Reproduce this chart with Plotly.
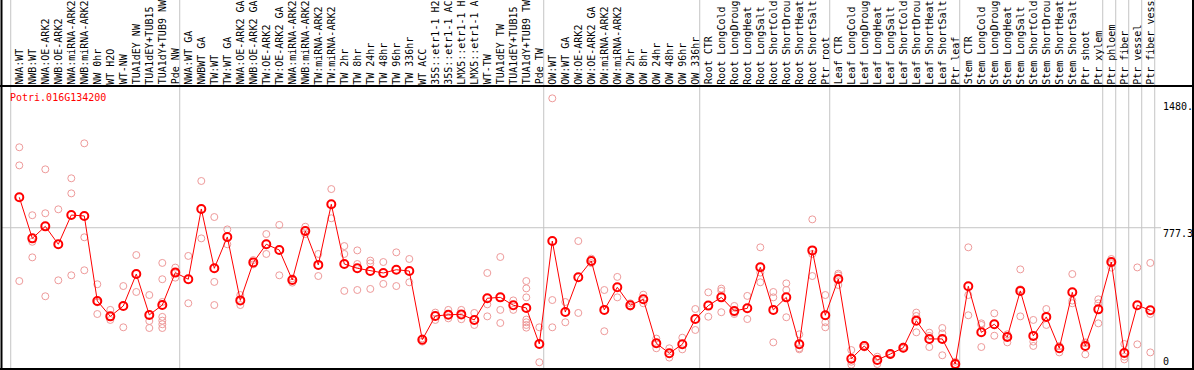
import plotly.graph_objects as go

# ---------------- data ----------------
gene_id = "Potri.016G134200"

categories = [
    "NWA:WT", "NWB:WT", "NWA:OE-ARK2", "NWB:OE-ARK2", "NWA:miRNA-ARK2", "NWB:miRNA-ARK2",
    "NW 0hr", "WT H2O", "WT-NW", "TUA1dEY NW", "TUA1dEY+TUB15", "TUA1dY+TUB9 NW", "Pde NW",
    "NWA:WT GA", "NWBWT GA", "TW:WT", "TW:WT GA", "NWA:OE-ARK2 GA", "NWB:OE-ARK2 GA",
    "TW:OE-ARK2", "TW:OE-ARK2 GA", "NWA:miRNA-ARK2", "NWB:miRNA-ARK2", "TW:miRNA-ARK2",
    "TW:miRNA-ARK2", "TW 2hr", "TW 8hr", "TW 24hr", "TW 48hr", "TW 96hr", "TW 336hr",
    "WT ACC", "35S::etr1-1 H2", "35S::etr1-1 AC", "LMX5::etr1-1 H", "LMX5::etr1-1 A",
    "WT-TW", "TUA1dEY TW", "TUA1dEY+TUB15", "TUA1dY+TUB9 TW", "Pde TW",
    "OW:WT", "OW:WT GA", "OW:OE-ARK2", "OW:OE-ARK2 GA", "OW:miRNA-ARK2", "OW:miRNA-ARK2",
    "OW 2hr", "OW 8hr", "OW 24hr", "OW 48hr", "OW 96hr", "OW 336hr",
    "Root CTR", "Root LongCold", "Root LongDroug", "Root LongHeat", "Root LongSalt",
    "Root ShortCold", "Root ShortDrou", "Root ShortHeat", "Root ShortSalt", "Ptr root",
    "Leaf CTR", "Leaf LongCold", "Leaf LongDroug", "Leaf LongHeat", "Leaf LongSalt",
    "Leaf ShortCold", "Leaf ShortDrou", "Leaf ShortHeat", "Leaf ShortSalt", "Ptr leaf",
    "Stem CTR", "Stem LongCold", "Stem LongDroug", "Stem LongHeat", "Stem LongSalt",
    "Stem ShortCold", "Stem ShortDrou", "Stem ShortHeat", "Stem ShortSalt", "Ptr shoot",
    "Ptr xylem", "Ptr phloem", "Ptr fiber", "Ptr vessel", "Ptr fiber vess",
]

# first category index of each sample group (group separators)
group_starts = [0, 13, 41, 53, 63, 73, 84, 85, 86, 87, 88]

means = [
    947, 718, 785, 685, 848, 843, 369, 283, 341, 519, 291, 346, 527,
    490, 882, 551, 726, 372, 584, 685, 653, 486, 759, 570, 908, 575, 551, 536, 525,
    543, 536, 153, 285, 292, 294, 263, 384, 389, 345, 330, 129,
    703, 307, 501, 592, 319, 445, 345, 378, 133, 77, 127, 268,
    343, 389, 313, 328, 557, 319, 389, 127, 651, 289,
    491, 47, 118, 40, 73, 108, 259, 157, 157, 17,
    451, 194, 239, 168, 425, 174, 280, 105, 417, 118, 322,
    586, 79, 345, 317,
]

replicates = [
    [1226, 1125, 480], [847, 699, 612], [1103, 858, 395], [880, 484], [1053, 969, 512],
    [1248, 724, 540], [462, 361, 296], [319, 263], [452, 222], [625, 419],
    [402, 257, 218], [581, 490, 363, 280, 259, 239, 218], [555, 527, 499],
    [620, 356], [1038, 718], [837, 475, 346], [768, 685], [402, 346], [597, 573],
    [742, 631], [793, 512], [495, 471], [783, 742], [631, 508], [993, 830],
    [675, 631, 425], [651, 575, 430], [594, 579, 436], [586, 464], [640, 452],
    [603, 473], [160, 142], [304, 263], [319, 272], [319, 267], [302, 235],
    [525, 350, 283], [614, 319, 246], [372, 319],
    [480, 439, 389, 265, 250, 235, 220], [222, 27],
    [1499, 374, 222], [363, 250], [703, 302], [605, 580], [430, 200], [503, 389],
    [356, 337], [404, 356], [159, 105], [105, 53], [164, 99], [324, 207],
    [417, 281], [438, 425, 306], [341, 304, 296], [397, 268], [668, 527, 473],
    [419, 389, 138], [467, 430, 278], [183, 105, 99], [824, 631, 508], [402, 250, 222],
    [521, 512, 458], [95, 30, 14], [123, 110], [58, 17], [77, 68], [114, 103],
    [304, 285, 194], [192, 174, 112], [218, 188, 66], [30, 2],
    [668, 402, 289], [244, 235, 112], [300, 175], [183, 170, 138], [545, 434, 283],
    [263, 142, 118], [324, 235], [118, 82], [519, 371, 356], [138, 133, 71],
    [378, 356, 244], [603, 579, 555], [129, 58, 43], [556, 127], [581, 296, 82],
]

axis_labels = ["1480.", "777.3", "0"]
grid_value = 777.3

# ---------------- layout geometry ----------------
W, H = 1194, 370
X0_PX, STEP_PX = 19.3, 13.0          # pixel of first category, spacing
Y0_PX, PX_PER_UNIT = 367.1, 0.1793   # pixel of value 0, scale

x_min = -X0_PX / STEP_PX
x_max = x_min + W / STEP_PX
y_min = (Y0_PX - H) / PX_PER_UNIT
y_max = Y0_PX / PX_PER_UNIT


def px_x(px):
    return px / W


def px_y(py):
    return 1 - py / H


FONT = "DejaVu Sans Mono"

fig = go.Figure()

rep_x, rep_y = [], []
for i, reps in enumerate(replicates):
    for v in reps:
        rep_x.append(i)
        rep_y.append(v)

fig.add_trace(go.Scatter(
    x=rep_x, y=rep_y, mode="markers",
    marker=dict(symbol="circle-open", size=7, color="#EE9A9A", line=dict(width=1, color="#EE9A9A")),
    hoverinfo="skip", showlegend=False,
))

fig.add_trace(go.Scatter(
    x=list(range(len(means))), y=means, mode="lines+markers",
    line=dict(color="#FF0000", width=1),
    marker=dict(symbol="circle-open", size=8, color="#FF0000", line=dict(width=2, color="#FF0000")),
    showlegend=False,
))

shapes = []
# group separators (gray, full height)
for g in group_starts:
    shapes.append(dict(type="line", xref="x", yref="paper", x0=g - 0.66, x1=g - 0.66,
                       y0=0, y1=1, line=dict(color="#C4C4C4", width=1), layer="below"))
# horizontal grid at mid value
shapes.append(dict(type="line", xref="paper", yref="y", x0=px_x(2), x1=px_x(1161),
                   y0=grid_value, y1=grid_value, line=dict(color="#C4C4C4", width=1), layer="below"))
# black frame
shapes += [
    dict(type="line", xref="paper", yref="paper", x0=px_x(1.5), x1=px_x(1.5), y0=0, y1=1,
         line=dict(color="black", width=2)),
    dict(type="line", xref="paper", yref="paper", x0=px_x(1193), x1=px_x(1193), y0=0, y1=1,
         line=dict(color="black", width=2)),
    dict(type="line", xref="paper", yref="paper", x0=0, x1=1, y0=px_y(86), y1=px_y(86),
         line=dict(color="black", width=2)),
    dict(type="line", xref="paper", yref="paper", x0=0, x1=1, y0=px_y(369), y1=px_y(369),
         line=dict(color="black", width=2)),
]

annotations = []
for i, lab in enumerate(categories):
    annotations.append(dict(
        x=i, xref="x", y=px_y(84.5), yref="paper", text=lab, textangle=-90,
        xanchor="center", yanchor="bottom", showarrow=False, borderpad=0, borderwidth=0,
        font=dict(family=FONT, size=10, color="black"),
    ))

annotations.append(dict(
    x=px_x(9), xref="paper", y=px_y(97), yref="paper", text=gene_id,
    xanchor="left", yanchor="middle", showarrow=False, borderpad=0,
    font=dict(family=FONT, size=10, color="#FF0000"),
))

for lab, py in zip(axis_labels, [107, 233, 361]):
    annotations.append(dict(
        x=px_x(1162), xref="paper", y=px_y(py), yref="paper", text=lab,
        xanchor="left", yanchor="middle", showarrow=False, borderpad=0,
        font=dict(family=FONT, size=10, color="black"),
    ))

fig.update_layout(
    width=W, height=H, margin=dict(l=0, r=0, t=0, b=0),
    paper_bgcolor="white", plot_bgcolor="white",
    xaxis=dict(range=[x_min, x_max], visible=False, fixedrange=True),
    yaxis=dict(range=[y_min, y_max], visible=False, fixedrange=True),
    shapes=shapes, annotations=annotations, showlegend=False,
)

fig.write_html(
    "out.html",
    config={"displayModeBar": False},
    post_script="document.body.style.margin='0';document.body.style.overflow='hidden';",
)
